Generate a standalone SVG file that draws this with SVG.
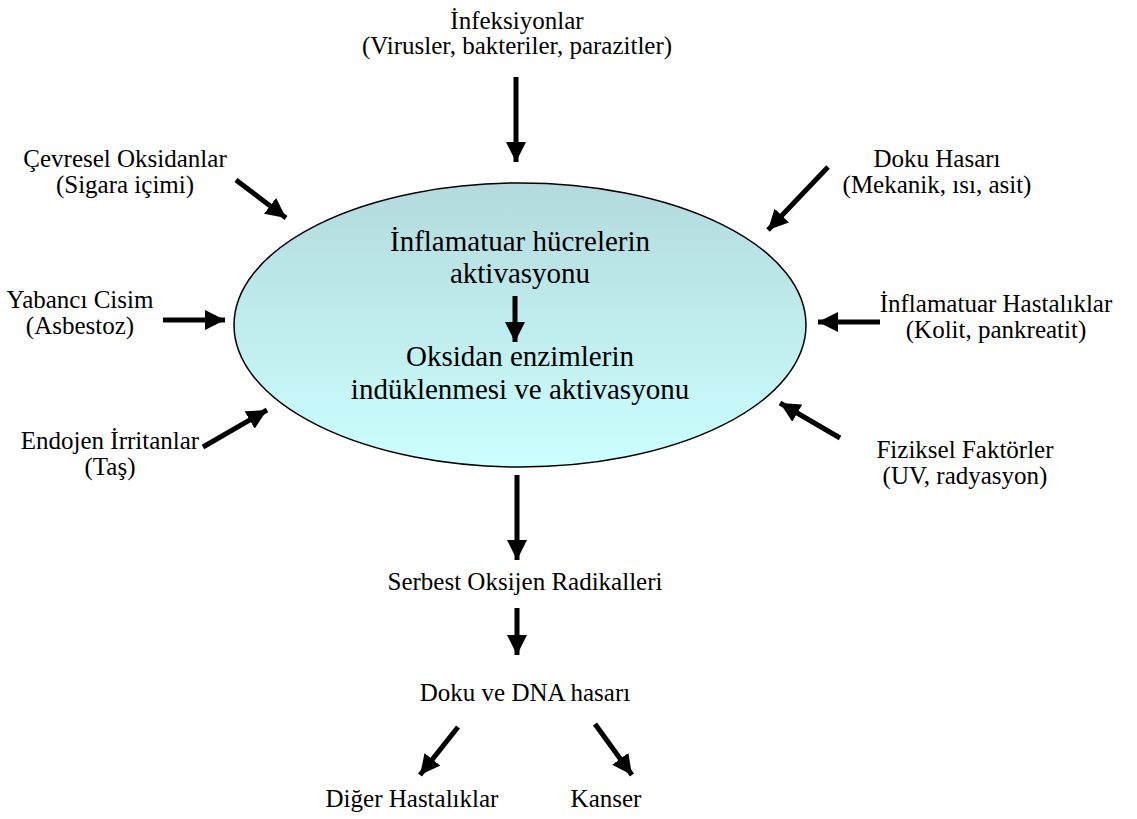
<svg xmlns="http://www.w3.org/2000/svg" width="1137" height="819" viewBox="0 0 1137 819">
<defs>
<linearGradient id="g" x1="0" y1="0" x2="0" y2="1">
<stop offset="0" stop-color="#b3dadd"/>
<stop offset="1" stop-color="#ccffff"/>
</linearGradient>
<marker id="ah" viewBox="0 0 10 10" refX="10" refY="5" markerWidth="4" markerHeight="4" orient="auto" markerUnits="strokeWidth">
<path d="M0,0 L10,5 L0,10 Z" fill="#000"/>
</marker>
<style>
.t{font-family:'Liberation Serif','Times New Roman',Tinos,serif;fill:#000;text-anchor:middle}
.o{font-size:25px}
.c{font-size:29px}
.a{stroke:#000;stroke-width:5;fill:none;marker-end:url(#ah)}
</style>
</defs>
<rect width="1137" height="819" fill="#fff"/>
<g id="center">
<ellipse cx="520" cy="325" rx="286" ry="142" fill="url(#g)" stroke="#000" stroke-width="1.5"/>
<text class="t c" x="520" y="251">İnflamatuar hücrelerin</text>
<text class="t c" x="520" y="283">aktivasyonu</text>
<text class="t c" x="520" y="366">Oksidan enzimlerin</text>
<text class="t c" x="520" y="399">indüklenmesi ve aktivasyonu</text>
</g>
<g id="n-infeksiyon">
<text class="t o" x="517" y="29">İnfeksiyonlar</text>
<text class="t o" x="517" y="54">(Virusler, bakteriler, parazitler)</text>
</g>
<g id="n-cevresel">
<text class="t o" x="125" y="167">Çevresel Oksidanlar</text>
<text class="t o" x="125" y="193">(Sigara içimi)</text>
</g>
<g id="n-yabanci">
<text class="t o" x="80" y="308">Yabancı Cisim</text>
<text class="t o" x="80" y="334">(Asbestoz)</text>
</g>
<g id="n-endojen">
<text class="t o" x="110" y="449">Endojen İrritanlar</text>
<text class="t o" x="110" y="475">(Taş)</text>
</g>
<g id="n-doku">
<text class="t o" x="937" y="167">Doku Hasarı</text>
<text class="t o" x="937" y="193">(Mekanik, ısı, asit)</text>
</g>
<g id="n-inflamatuar">
<text class="t o" x="996" y="312">İnflamatuar Hastalıklar</text>
<text class="t o" x="996" y="338">(Kolit, pankreatit)</text>
</g>
<g id="n-fiziksel">
<text class="t o" x="965" y="458">Fiziksel Faktörler</text>
<text class="t o" x="965" y="484">(UV, radyasyon)</text>
</g>
<g id="n-serbest"><text class="t o" x="525" y="590">Serbest Oksijen Radikalleri</text></g>
<g id="n-dna"><text class="t o" x="525" y="701">Doku ve DNA hasarı</text></g>
<g id="n-diger"><text class="t o" x="412" y="807">Diğer Hastalıklar</text></g>
<g id="n-kanser"><text class="t o" x="606" y="807">Kanser</text></g>
<g id="connectors">
<line class="a" x1="516" y1="77" x2="516" y2="162"/>
<line class="a" x1="236" y1="180" x2="286" y2="218"/>
<line class="a" x1="163" y1="320" x2="225" y2="320"/>
<line class="a" x1="203" y1="447" x2="267" y2="410"/>
<line class="a" x1="828" y1="167" x2="768" y2="230"/>
<line class="a" x1="880" y1="322" x2="818" y2="322"/>
<line class="a" x1="840" y1="438" x2="780" y2="403"/>
<line class="a" x1="515" y1="296" x2="515" y2="342"/>
<line class="a" x1="517" y1="475" x2="517" y2="560"/>
<line class="a" x1="517" y1="608" x2="517" y2="655"/>
<line class="a" x1="458" y1="727" x2="420" y2="775"/>
<line class="a" x1="595" y1="724" x2="632" y2="775"/>
</g>
</svg>
